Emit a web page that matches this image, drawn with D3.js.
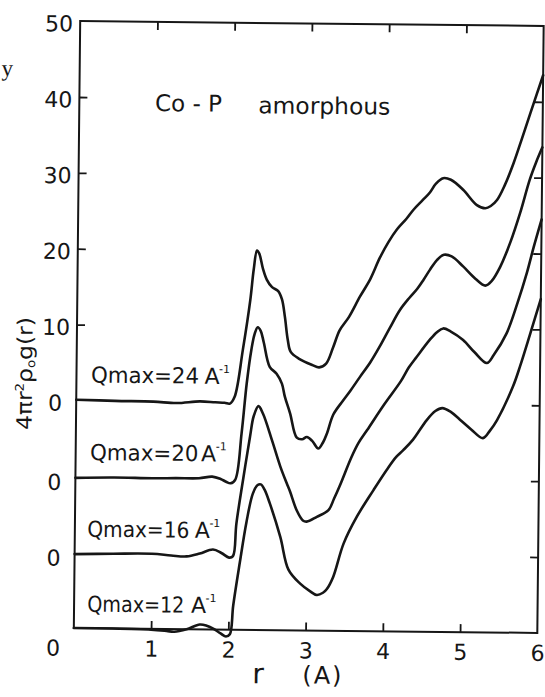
<!DOCTYPE html>
<html>
<head>
<meta charset="utf-8">
<script src="https://cdn.jsdelivr.net/npm/d3@7"></script>
<style>
  html, body { margin: 0; padding: 0; background: #fff; }
  svg { display: block; }
</style>
</head>
<body>
<svg id="chart" width="545" height="697"></svg>
<script>
// Reduced radial distribution 4πr²ρ0·g(r) of amorphous Co-P, transformed with
// four cut-offs Qmax. Each curve is a list of [r (Å), value] pairs; the curves
// are stacked 10 units apart so that each has its own zero line.
const qmax24 = [
  [0, 0.1], [0.5, 0.0], [1.0, -0.05], [1.3, -0.2], [1.6, 0.05], [1.8, -0.05],
  [1.92, -0.1], [1.99, -0.2], [2.05, 0.7], [2.15, 6.9], [2.24, 13.5], [2.28, 17.5],
  [2.32, 20.0], [2.35, 19.6], [2.40, 17.6], [2.45, 16.2], [2.52, 15.2], [2.60, 14.7],
  [2.65, 13.6], [2.69, 11.3], [2.73, 8.3], [2.77, 6.7], [2.88, 5.8], [3.05, 5.0],
  [3.14, 4.7], [3.23, 5.2], [3.32, 7.4], [3.40, 9.6], [3.52, 11.4], [3.66, 14.1],
  [3.79, 16.4], [3.91, 19.2], [4.02, 21.3], [4.13, 23.0], [4.25, 24.4], [4.34, 25.6],
  [4.46, 26.9], [4.55, 27.9], [4.63, 29.1], [4.72, 29.8], [4.82, 29.6], [4.98, 28.3],
  [5.16, 26.3], [5.27, 25.9], [5.34, 26.2], [5.42, 27.0], [5.52, 29.0], [5.63, 31.9],
  [5.73, 35.0], [5.84, 38.5], [5.92, 41.0], [6.0, 43.5]
];
const qmax20 = [
  [0, -0.2], [0.5, -0.1], [1.0, -0.15], [1.3, -0.1], [1.6, -0.08], [1.77, 0.15],
  [1.88, -0.15], [1.95, -0.5], [2.01, -0.7], [2.07, -0.2], [2.145, 5.9], [2.205, 12.5],
  [2.26, 16.9], [2.30, 19.0], [2.34, 19.9], [2.38, 19.4], [2.42, 17.9], [2.50, 14.7],
  [2.59, 13.8], [2.66, 12.5], [2.70, 10.8], [2.77, 8.6], [2.86, 5.4], [2.93, 5.2],
  [2.99, 5.5], [3.06, 5.0], [3.14, 4.0], [3.20, 4.8], [3.25, 6.0], [3.33, 8.5],
  [3.45, 10.3], [3.55, 11.7], [3.67, 13.5], [3.80, 15.4], [3.92, 17.5], [4.05, 20.0],
  [4.18, 22.4], [4.30, 24.0], [4.40, 25.2], [4.48, 26.4], [4.56, 27.7], [4.65, 29.0],
  [4.74, 29.7], [4.84, 29.5], [4.99, 28.2], [5.15, 26.6], [5.28, 25.7], [5.36, 26.3],
  [5.47, 28.2], [5.60, 31.5], [5.72, 35.3], [5.84, 39.7], [5.92, 42.0], [6.0, 44.0]
];
const qmax16 = [
  [0, -0.25], [0.5, -0.15], [1.0, -0.1], [1.25, -0.3], [1.45, -0.4], [1.62, 0.0],
  [1.79, 0.55], [1.9, 0.1], [2.0, -0.5], [2.05, -0.3], [2.09, 4.0], [2.17, 9.75],
  [2.255, 15.5], [2.30, 18.2], [2.36, 19.5], [2.42, 18.5], [2.54, 15.0], [2.65, 11.6],
  [2.735, 9.4], [2.78, 8.3], [2.87, 5.8], [2.95, 4.5], [3.0, 4.35], [3.13, 5.0],
  [3.28, 5.9], [3.35, 7.4], [3.43, 9.3], [3.57, 12.9], [3.66, 14.8], [3.77, 16.5],
  [3.98, 19.8], [4.2, 23.0], [4.30, 24.8], [4.40, 26.2], [4.57, 28.5], [4.66, 29.5],
  [4.74, 30.0], [4.84, 29.6], [5.0, 28.5], [5.15, 26.9], [5.31, 25.5], [5.40, 26.6],
  [5.56, 29.4], [5.70, 33.5], [5.815, 37.4], [5.9, 40.8], [6.0, 44.5]
];
const qmax12 = [
  [0, 0.0], [0.5, 0.0], [1.0, -0.1], [1.2, -0.25], [1.3, -0.35], [1.46, 0.0],
  [1.63, 0.65], [1.72, 0.5], [1.81, 0.1], [1.9, -0.5], [1.97, -0.9], [2.02, -0.6],
  [2.06, 3.2], [2.14, 8.9], [2.22, 14.2], [2.30, 18.0], [2.36, 19.1], [2.40, 19.2],
  [2.45, 18.5], [2.52, 16.7], [2.66, 12.3], [2.77, 8.0], [2.92, 6.2], [3.05, 5.2],
  [3.14, 4.7], [3.22, 5.0], [3.27, 5.5], [3.35, 7.1], [3.48, 11.5], [3.65, 15.1],
  [3.86, 18.6], [4.03, 21.3], [4.15, 23.0], [4.24, 23.9], [4.365, 25.3], [4.54, 27.9],
  [4.65, 29.1], [4.74, 29.5], [4.85, 29.0], [4.97, 28.0], [5.12, 26.7], [5.27, 25.6],
  [5.36, 26.6], [5.45, 28.0], [5.65, 32.4], [5.74, 35.1], [5.87, 39.5], [6.0, 44.0]
];

const curves = [qmax24, qmax20, qmax16, qmax12];
const curveOffsets = [0, -10, -20, -30];
const qmaxValues = ["24", "20", "16", "12"];

const xTickValues = [0, 1, 2, 3, 4, 5, 6];
const yLabelValues = [50, 40, 30, 20, 10, 0, -10, -20];
const leftTickValues = [40, 30, 20, 10];
const rightTickValues = [40, 30, 20, 10, 0, -10, -20];

// ---- drawing ----
const ink = "#161616";
const font = "'DejaVu Sans', sans-serif";

const svg = d3.select("#chart");
svg.append("rect").attr("width", 545).attr("height", 697).attr("fill", "#fff");

// the printed figure sits slightly turned on the page
const root = svg.append("g").attr("transform", "rotate(0.6,307,327)");

const x = d3.scaleLinear().domain([0, 6]).range([77, 540.5]);
const y = d3.scaleLinear().domain([-30, 50]).range([630.5, 23.5]);

// frame
root.append("rect")
  .attr("x", x(0)).attr("y", y(50))
  .attr("width", x(6) - x(0)).attr("height", y(-30) - y(50))
  .attr("fill", "none").attr("stroke", ink).attr("stroke-width", 2);

function styleAxis(g) {
  g.select(".domain").remove();
  g.selectAll(".tick line").attr("stroke", ink).attr("stroke-width", 1.8);
  g.selectAll(".tick text").attr("fill", ink).attr("font-family", font).attr("font-size", 22);
}

// bottom axis: inward ticks at 1..5, labels 0..6
const bottom = root.append("g").attr("transform", `translate(0,${y(-30)})`)
  .call(d3.axisBottom(x).tickValues(xTickValues).tickSize(-8).tickFormat(d3.format("d")))
  .call(styleAxis);
bottom.selectAll(".tick").filter(d => d === 0 || d === 6).select("line").remove();
bottom.selectAll(".tick text").attr("y", 27.8).attr("dy", 0)
  .attr("dx", d => d === 0 ? -21 : 0);

// top axis: ticks only
root.append("g").attr("transform", `translate(0,${y(50)})`)
  .call(d3.axisTop(x).tickValues([1, 2, 3, 4, 5]).tickSize(-8).tickFormat(""))
  .call(styleAxis);

// left axis: each stacked curve gets its own "0"
const left = root.append("g").attr("transform", `translate(${x(0)},0)`)
  .call(d3.axisLeft(y).tickValues(yLabelValues).tickSize(-8)
    .tickFormat(d => d >= 0 ? String(d) : "0"))
  .call(styleAxis);
left.selectAll(".tick").filter(d => !leftTickValues.includes(d)).select("line").remove();
left.selectAll(".tick text").attr("text-anchor", "middle").attr("x", -21)
  .attr("dy", d => d < 0 ? "0.6em" : "0.45em");

// right axis: ticks only
root.append("g").attr("transform", `translate(${x(6)},0)`)
  .call(d3.axisRight(y).tickValues(rightTickValues).tickSize(-8).tickFormat(""))
  .call(styleAxis);

// curves
const line = d3.line()
  .x(d => x(d[0]))
  .y(d => d.y)
  .curve(d3.curveCatmullRom.alpha(0.5));

curves.forEach((pts, i) => {
  const off = curveOffsets[i];
  root.append("path")
    .datum(pts.map(p => Object.assign([p[0], p[1]], { y: y(p[1] + off) })))
    .attr("d", line)
    .attr("fill", "none")
    .attr("stroke", ink)
    .attr("stroke-width", 2.6)
    .attr("stroke-linejoin", "round")
    .attr("stroke-linecap", "round");
});

// Qmax labels above each zero line (condensed horizontally to a set width)
const labelLayout = [
  { x0: 91.6, w: 108, ax: 205, sx: 219.5, dy: -18.1 },
  { x0: 91.4, w: 108.5, ax: 202.5, sx: 217, dy: -16.5 },
  { x0: 89.5, w: 102, ax: 197, sx: 211.5, dy: -15.6 },
  { x0: 90.3, w: 97, ax: 194, sx: 208.5, dy: -16.5 }
];
qmaxValues.forEach((q, i) => {
  const L = labelLayout[i];
  const base = y(curveOffsets[i]) + L.dy;
  const t = root.append("text")
    .attr("x", 0).attr("y", 0)
    .attr("font-family", font).attr("font-size", 22).attr("fill", ink)
    .text(`Qmax=${q}`);
  const k = L.w / t.node().getComputedTextLength();
  t.attr("transform", `translate(${L.x0},${base}) scale(${k},1)`);
  root.append("text")
    .attr("x", L.ax).attr("y", base)
    .attr("font-family", font).attr("font-size", 22).attr("fill", ink)
    .text("A");
  root.append("text")
    .attr("x", L.sx).attr("y", base - 11)
    .attr("font-family", font).attr("font-size", 11).attr("fill", ink)
    .text("-1");
});

// title inside the frame
root.append("text")
  .attr("x", 152.7).attr("y", 112.6)
  .attr("font-family", font).attr("font-size", 23).attr("fill", ink)
  .text("Co - P");
root.append("text")
  .attr("x", 256).attr("y", 113.8)
  .attr("textLength", 132).attr("lengthAdjust", "spacingAndGlyphs")
  .attr("font-family", font).attr("font-size", 23).attr("fill", ink)
  .text("amorphous");

// axis titles
root.append("text")
  .attr("x", 256).attr("y", 683.8)
  .attr("font-family", font).attr("font-size", 28).attr("fill", ink)
  .text("r");
root.append("text")
  .attr("x", 306).attr("y", 683.3)
  .attr("font-family", font).attr("font-size", 24).attr("letter-spacing", 2).attr("fill", ink)
  .text("(A)");

const yTitle = root.append("text")
  .attr("transform", "translate(32.5,376.5) rotate(-90)")
  .attr("text-anchor", "middle")
  .attr("textLength", 113).attr("lengthAdjust", "spacingAndGlyphs")
  .attr("font-family", font).attr("font-size", 21).attr("fill", ink);
yTitle.append("tspan").text("4πr");
yTitle.append("tspan").attr("font-size", 12).attr("dy", -8).text("2");
yTitle.append("tspan").attr("dy", 8).text("ρ");
yTitle.append("tspan").attr("font-size", 12).attr("dy", 3).text("o");
yTitle.append("tspan").attr("dy", -3).text("g(r)");

// fragment of neighbouring text at the page edge
root.append("text")
  .attr("x", -1).attr("y", 79)
  .attr("font-family", "'Liberation Serif', serif").attr("font-size", 23).attr("fill", ink)
  .text("y");
</script>
</body>
</html>
